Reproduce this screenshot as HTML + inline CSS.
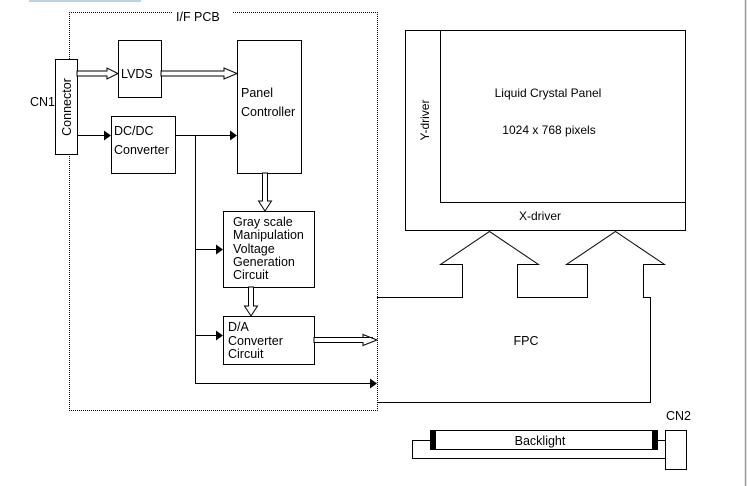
<!DOCTYPE html>
<html><head><meta charset="utf-8"><style>
html,body{margin:0;padding:0;background:#fff;}
svg{display:block;font-family:"Liberation Sans",Arial,sans-serif;}
</style></head><body>
<svg width="748" height="486" viewBox="0 0 748 486" xmlns="http://www.w3.org/2000/svg">
<rect x="29" y="0" width="112" height="2" fill="#bcd3e3"/>
<line x1="745.5" y1="0" x2="745.5" y2="486" stroke="#999" stroke-width="1.5"/>
<g fill="none" stroke="#000" stroke-width="1">
<path d="M172 12.5 H69.5 V410.5 H377.5 V12.5 H232" stroke-dasharray="1,1"/>
<rect x="55.5" y="59.5" width="22" height="95" fill="#fff"/>
<rect x="118.5" y="40.5" width="43" height="57"/>
<rect x="237.5" y="40.5" width="64" height="133"/>
<rect x="111.5" y="116.5" width="64" height="57"/>
<rect x="223.5" y="211.5" width="91" height="76"/>
<rect x="223.5" y="316.5" width="91" height="48"/>
<path d="M77 135.5 H104 M175 135.5 H230 M195.5 135.5 V383.5 H370 M195 249.5 H216 M195 335.5 H216"/>
<rect x="405.5" y="30.5" width="280" height="200"/>
<path d="M440.5 30.5 V202.5 H685.5"/>
<path d="M377 297.5 H462.5 V264.5 H440.5 L489.5 231.5 L538.5 264.5 H517.5 V297.5 H587.5 V264.5 H566.5 L615.5 231.5 L664.5 264.5 H643.5 V297.5 H650.5 V402.5 H377"/>
<rect x="430.5" y="430.5" width="227" height="19"/>
<path d="M430 440.5 H412.5 V458.5 H665 M658 440.5 H665"/>
<rect x="665.5" y="430.5" width="21" height="39"/>
</g>
<rect x="430" y="430" width="6" height="20" fill="#000"/>
<rect x="652" y="430" width="6" height="20" fill="#000"/>
<g fill="#000">
<polygon points="104,130.5 111,135.5 104,140.5"/>
<polygon points="230,130.5 237,135.5 230,140.5"/>
<polygon points="216,244.5 223,249.5 216,254.5"/>
<polygon points="216,330.5 223,335.5 216,340.5"/>
<polygon points="370,378.5 377,383.5 370,388.5"/>
</g>
<g fill="#fff" stroke="#000" stroke-width="1">
<polygon points="77,71 107,71 107,68 118,73.5 107,79 107,76 77,76"/>
<polygon points="161,71 224,71 224,68 237,73.5 224,79 224,76 161,76"/>
<polygon points="373,337.5 363,337.5 363,334.5 377,340 363,345.5 363,342.5 314,342.5 314,337.5"/>
<polygon points="262.5,173 267.5,173 267.5,201 271.5,201 265,211 258.5,201 262.5,201"/>
<polygon points="248.5,287 253.5,287 253.5,306 257.5,306 251,316 244.5,306 248.5,306"/>
</g>
<g font-size="12.5" fill="#000">
<text x="176" y="21">I/F PCB</text>
<text x="30" y="106">CN1</text>
<text transform="translate(71,107) rotate(-90)" text-anchor="middle">Connector</text>
<text x="121" y="78">LVDS</text>
<text x="241" y="97">Panel</text>
<text x="241" y="116">Controller</text>
<text x="114" y="135">DC/DC</text>
<text x="114" y="154">Converter</text>
<text x="233" y="226">Gray scale</text>
<text x="233" y="239">Manipulation</text>
<text x="233" y="253">Voltage</text>
<text x="233" y="266">Generation</text>
<text x="233" y="279">Circuit</text>
<text x="228" y="331">D/A</text>
<text x="228" y="345">Converter</text>
<text x="228" y="358">Circuit</text>
<text x="548" y="97" text-anchor="middle" font-size="12">Liquid Crystal Panel</text>
<text x="549" y="134" text-anchor="middle" font-size="12">1024 x 768 pixels</text>
<text transform="translate(429,120) rotate(-90)" text-anchor="middle" font-size="12">Y-driver</text>
<text x="540" y="220" text-anchor="middle" font-size="12">X-driver</text>
<text x="526" y="345" text-anchor="middle">FPC</text>
<text x="540" y="445" text-anchor="middle">Backlight</text>
<text x="666" y="420">CN2</text>
</g>
</svg>
</body></html>
